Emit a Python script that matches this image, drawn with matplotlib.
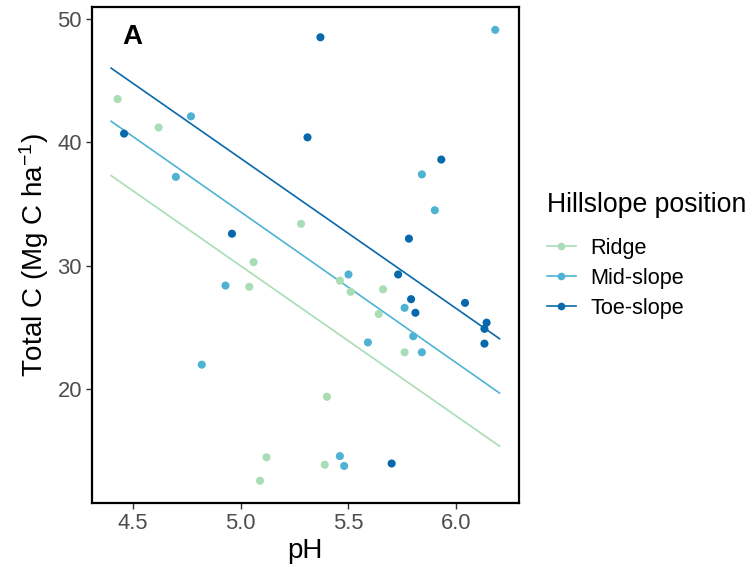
import matplotlib
matplotlib.use("Agg")
import matplotlib.pyplot as plt
from matplotlib.lines import Line2D

plt.rcParams['font.family'] = ['Liberation Sans', 'DejaVu Sans']
plt.rcParams['mathtext.fontset'] = 'custom'
plt.rcParams['mathtext.rm'] = 'Liberation Sans'
plt.rcParams['mathtext.it'] = 'Liberation Sans:italic'

# hillslope groups
groups = ['Ridge', 'Mid-slope', 'Toe-slope']
colors = ['#A8DDB5', '#4EB3D3', '#0868AC']

# pH / total C readings per group
ridge_ph = [4.43, 4.62, 5.28, 5.06, 5.04, 5.12, 5.09, 5.46, 5.51, 5.66, 5.64, 5.76, 5.40, 5.39]
ridge_c = [43.5, 41.2, 33.4, 30.3, 28.3, 14.5, 12.6, 28.8, 27.9, 28.1, 26.1, 23.0, 19.4, 13.9]

mid_ph = [4.77, 4.70, 6.18, 5.84, 5.90, 4.93, 4.82, 5.50, 5.76, 5.59, 5.80, 5.84, 5.46, 5.48]
mid_c = [42.1, 37.2, 49.1, 37.4, 34.5, 28.4, 22.0, 29.3, 26.6, 23.8, 24.3, 23.0, 14.6, 13.8]

toe_ph = [4.46, 5.31, 4.96, 5.37, 5.93, 5.78, 5.73, 5.79, 5.81, 6.04, 6.14, 6.13, 6.13, 5.70]
toe_c = [40.7, 40.4, 32.6, 48.5, 38.6, 32.2, 29.3, 27.3, 26.2, 27.0, 25.4, 24.9, 23.7, 14.0]

# fitted lines (common slope), value at each end of the pH range
fit_ph = [4.40, 6.20]
fit_start = [37.3, 41.7, 46.0]
fit_end = [15.4, 19.7, 24.1]

xs = [ridge_ph, mid_ph, toe_ph]
ys = [ridge_c, mid_c, toe_c]

fig = plt.figure(figsize=(7.53, 5.67), dpi=100)
ax = fig.add_axes([0.1218, 0.1123, 0.5674, 0.8748])

for i, g in enumerate(groups):
    ax.scatter(xs[i], ys[i], s=34, color=colors[i], edgecolors='none', zorder=3)
    ax.plot(fit_ph, [fit_start[i], fit_end[i]], color=colors[i], lw=1.2, zorder=2)

# ggplot style 5% padding around data + lines
all_x = ridge_ph + mid_ph + toe_ph + fit_ph
all_y = ridge_c + mid_c + toe_c + fit_start + fit_end
xr = max(all_x) - min(all_x)
yr = max(all_y) - min(all_y)
ax.set_xlim(min(all_x) - 0.05 * xr, max(all_x) + 0.05 * xr)
ax.set_ylim(min(all_y) - 0.05 * yr, max(all_y) + 0.05 * yr)

ax.set_xticks([4.5, 5.0, 5.5, 6.0])
ax.set_xticklabels(['4.5', '5.0', '5.5', '6.0'])
ax.set_yticks([20, 30, 40, 50])
ax.tick_params(axis='both', labelsize=15.8, labelcolor='#4D4D4D', color='#333333',
               length=4, width=1.0, pad=3)

for sp in ax.spines.values():
    sp.set_linewidth(1.6)
    sp.set_color('black')

ax.set_xlabel('pH', fontsize=20, labelpad=3)
ax.set_ylabel(r'Total C (Mg C ha$^{\mathregular{-1}}$)', fontsize=20, labelpad=5)

ax.text(4.45, 48.5, 'A', fontsize=20, fontweight='bold', va='center', ha='left')

handles = [Line2D([0], [0], color=c, lw=1.2, marker='o', markersize=5.5, markeredgewidth=0)
           for c in colors]
leg = fig.legend(handles, groups, title='Hillslope position', loc='upper left',
                 bbox_to_anchor=(0.701, 0.695), frameon=False, fontsize=15.6,
                 title_fontsize=19.2, handlelength=1.3, handletextpad=0.7, labelspacing=0.42)
leg._legend_box.align = 'left'
leg._legend_box.sep = 14

fig.savefig('out.png', dpi=100)
